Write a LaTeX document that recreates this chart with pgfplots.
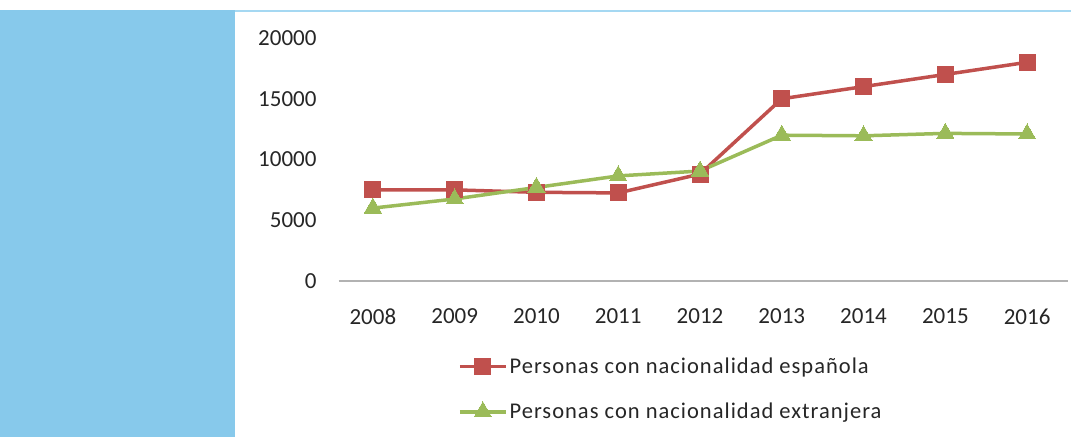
\documentclass[border=0pt]{standalone}
\usepackage{pgfplots}
\pgfplotsset{compat=1.18}
\usepackage{fontspec}
\setmainfont{Carlito}
\definecolor{panelblue}{HTML}{87C9EB}
\definecolor{topline}{HTML}{A5D8F2}
\definecolor{redser}{HTML}{C0504D}
\definecolor{greenser}{HTML}{9BBB59}

\begin{document}
\begin{tikzpicture}[x=1pt,y=1pt]
  \useasboundingbox (0,0) rectangle (1071,437);
  % left panel and top rule
  \fill[panelblue] (0,0) rectangle (235,427);
  \draw[topline, line width=2pt] (235,426) -- (1071,426);

  \begin{axis}[
    at={(332pt,156pt)}, anchor=south west,
    scale only axis,
    width=736pt, height=243pt,
    xmin=-0.5, xmax=8.5,
    ymin=0, ymax=20000,
    xtick={0,...,8},
    xticklabels={2008,2009,2010,2011,2012,2013,2014,2015,2016},
    ytick={0,5000,10000,15000,20000},
    scaled y ticks=false,
    /pgf/number format/1000 sep={},
    /pgf/number format/assume math mode=true,
    axis line style={draw=none},
    major tick length=0pt,
    tick label style={font=\fontsize{23}{26}\selectfont, text=black!85},
    yticklabel style={xshift=-12pt},
    xticklabel style={yshift=-24pt},
    clip=false,
    legend style={
      at={(0.167,-0.30)}, anchor=north west,
      draw=none, fill=none,
      font=\fontsize{22.5}{26}\selectfont\addfontfeatures{LetterSpace=4.5},
      row sep=24pt,
      text=black!85,
    },
    legend cell align=left,
    legend image code/.code={
      \draw[#1, mark=none] (0pt,0pt) -- (46pt,0pt);
      \draw[#1, only marks] plot coordinates {(23pt,0pt)};
    },
  ]
  \draw[gray!60, line width=1.2pt] (axis cs:-0.42,0) -- (axis cs:8.5,0);

  \addplot[redser, line width=3.5pt, mark=square*, mark size=8pt,
           mark options={solid, line width=0pt}] coordinates {
    (0,7500) (1,7500) (2,7300) (3,7250) (4,8800)
    (5,15000) (6,16000) (7,17000) (8,18000)
  };
  \addlegendentry{Personas con nacionalidad española}

  \addplot[greenser, line width=3.5pt, mark=triangle*, mark size=10pt,
           mark options={solid, line width=0pt}] coordinates {
    (0,6000) (1,6750) (2,7700) (3,8650) (4,9050)
    (5,12000) (6,11950) (7,12150) (8,12100)
  };
  \addlegendentry{Personas con nacionalidad extranjera}
  \end{axis}
\end{tikzpicture}
\end{document}
